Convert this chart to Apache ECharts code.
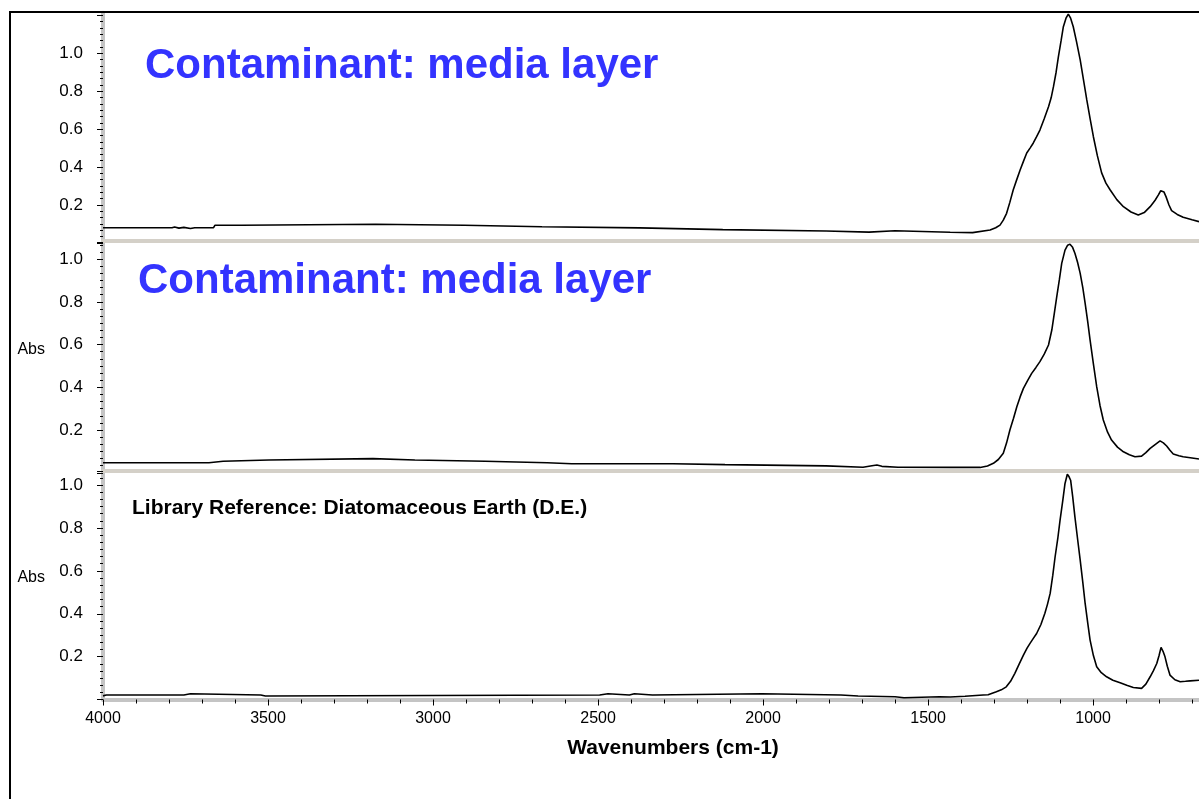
<!DOCTYPE html>
<html>
<head>
<meta charset="utf-8">
<script src="https://cdn.jsdelivr.net/npm/echarts@6/dist/echarts.min.js"></script>
<style>
html,body{margin:0;padding:0;background:#fff;}
#chart{width:1199px;height:799px;}
</style>
</head>
<body>
<div id="chart"></div>
<script>
// ---- data (wavenumbers in cm-1, absorbance) ----
const wnTop = [4000,3791,3783,3770,3755,3735,3722,3665,3661,3580,3576,3174,3170,2905,2900,2670,2665,2374,2370,2122,2118,1809,1805,1679,1675,1600,1596,1433,1365,1360,1312,1295,1282,1272,1262,1252,1242,1231,1221,1211,1201,1191,1181,1171,1161,1148,1135,1127,1120,1112,1105,1097,1090,1082,1075,1068,1060,1050,1039,1029,1019,1009,999,987,974,961,948,928,908,885,863,845,827,812,802,795,790,785,779,770,762,745,727,700,679];
const abTop = [0.080,0.080,0.084,0.078,0.082,0.076,0.080,0.080,0.093,0.093,0.098,0.098,0.093,0.093,0.085,0.085,0.079,0.079,0.070,0.070,0.063,0.063,0.057,0.057,0.064,0.064,0.054,0.056,0.054,0.059,0.068,0.080,0.094,0.120,0.156,0.215,0.279,0.335,0.384,0.430,0.474,0.500,0.527,0.560,0.595,0.655,0.718,0.765,0.824,0.900,0.982,1.065,1.140,1.185,1.207,1.185,1.140,1.060,0.965,0.860,0.754,0.655,0.560,0.460,0.369,0.315,0.279,0.228,0.191,0.163,0.147,0.160,0.191,0.225,0.253,0.275,0.283,0.268,0.244,0.200,0.170,0.150,0.135,0.122,0.112];

const wnMid = [4000,3679,3675,3636,3632,3497,3493,3182,3178,3055,3051,2842,2838,2654,2650,2580,2575,2570,2273,2269,2115,2111,1809,1805,1697,1670,1655,1640,1591,1433,1342,1320,1302,1287,1272,1262,1252,1241,1231,1221,1211,1198,1186,1173,1161,1148,1135,1125,1118,1110,1102,1095,1085,1077,1070,1062,1055,1047,1039,1031,1024,1016,1009,999,989,979,969,956,944,926,908,890,873,853,840,827,812,797,787,777,767,757,740,727,700,679];
const abMid = [0.047,0.047,0.054,0.054,0.060,0.060,0.066,0.066,0.060,0.060,0.054,0.054,0.047,0.047,0.042,0.042,0.046,0.042,0.042,0.038,0.038,0.032,0.032,0.026,0.026,0.033,0.036,0.030,0.026,0.025,0.025,0.032,0.044,0.062,0.091,0.140,0.200,0.255,0.309,0.355,0.395,0.432,0.465,0.493,0.520,0.555,0.598,0.668,0.740,0.824,0.905,0.980,1.042,1.065,1.070,1.055,1.027,0.985,0.933,0.865,0.793,0.705,0.621,0.510,0.403,0.315,0.247,0.190,0.153,0.120,0.098,0.084,0.075,0.078,0.094,0.114,0.132,0.149,0.140,0.125,0.105,0.088,0.080,0.075,0.069,0.064];

const wnBot = [4000,3990,3755,3750,3735,3730,3522,3518,3508,3504,2495,2490,2470,2465,2405,2400,2390,2385,2335,2330,2003,2000,1764,1760,1712,1708,1600,1596,1573,1569,1465,1460,1433,1388,1384,1333,1318,1293,1278,1263,1250,1237,1224,1211,1200,1191,1181,1171,1158,1146,1138,1130,1122,1115,1107,1100,1092,1085,1078,1073,1068,1062,1055,1047,1039,1031,1024,1016,1009,999,989,975,959,940,918,898,878,853,840,827,817,807,800,794,788,782,775,767,752,736,720,706,679];
const abBot = [0.017,0.021,0.021,0.027,0.027,0.021,0.021,0.016,0.016,0.021,0.021,0.027,0.027,0.021,0.021,0.027,0.027,0.021,0.021,0.027,0.027,0.021,0.021,0.016,0.016,0.013,0.013,0.008,0.008,0.013,0.013,0.017,0.012,0.015,0.019,0.021,0.022,0.036,0.045,0.059,0.085,0.122,0.165,0.207,0.240,0.262,0.285,0.308,0.350,0.402,0.445,0.495,0.580,0.666,0.750,0.837,0.925,1.008,1.051,1.040,1.023,0.950,0.852,0.750,0.650,0.545,0.448,0.355,0.277,0.205,0.153,0.125,0.106,0.090,0.078,0.066,0.056,0.052,0.072,0.106,0.135,0.168,0.205,0.243,0.225,0.199,0.155,0.114,0.092,0.083,0.085,0.087,0.090];

// x-axis tick labels / tick positions
const xMajorTicks = [4000,3500,3000,2500,2000,1500,1000];
const xMinorTicks = [3900,3800,3700,3600,3400,3300,3200,3100,2900,2800,2700,2600,2400,2300,2200,2100,1900,1800,1700,1600,1400,1300,1200,1100,900,800,700];

const titles = ['Contaminant: media layer', 'Contaminant: media layer', 'Library Reference: Diatomaceous Earth (D.E.)'];
const yMax = [1.214, 1.08, 1.066];
const yName = ['', 'Abs', 'Abs'];
const xName = 'Wavenumbers (cm-1)';
const X_MIN = 679, X_MAX = 4000;

// ---- chart ----
const FONT = "'Liberation Sans', Arial, sans-serif";
const chart = echarts.init(document.getElementById('chart'), null, {renderer: 'canvas'});

const grids = [
  {left: 103, right: 0, top: 12.7, height: 230.2},
  {left: 103, right: 0, top: 242, height: 230.75},
  {left: 103, right: 0, top: 471, height: 228.5}
];

function yLabel(v) { return (v > 0.01 && v < 1.01) ? v.toFixed(1) : ''; }

const yAxes = [0, 1, 2].map(i => ({
  type: 'value', gridIndex: i, min: 0, max: yMax[i], interval: 0.2,
  name: yName[i], nameLocation: 'middle', nameRotate: 0, nameGap: 58,
  nameTextStyle: {fontSize: 16, color: '#000', fontFamily: FONT, verticalAlign: 'bottom'},
  axisLine: {show: true, lineStyle: {color: '#c4c4c4', width: 4}},
  axisTick: {show: true, length: 6, lineStyle: {color: '#000', width: 1}},
  minorTick: {show: true, splitNumber: 6, length: 3, lineStyle: {color: '#000', width: 1}},
  axisLabel: {formatter: yLabel, fontSize: 17, color: '#000', fontFamily: FONT, margin: 20},
  splitLine: {show: false}
}));

const xAxes = [0, 1, 2].map(i => {
  const base = {type: 'value', gridIndex: i, inverse: true, min: X_MIN, max: X_MAX, splitLine: {show: false}};
  if (i < 2) {
    return Object.assign(base, {
      offset: -2,
      axisLine: {show: true, lineStyle: {color: '#d4d0c8', width: 4}},
      axisTick: {show: false}, axisLabel: {show: false}
    });
  }
  return Object.assign(base, {
    name: xName, nameLocation: 'middle', nameGap: 38,
    nameTextStyle: {fontSize: 21, fontWeight: 'bold', color: '#000', fontFamily: FONT, padding: [0, 0, 0, 44]},
    axisLine: {show: true, lineStyle: {color: '#c4c4c4', width: 4}},
    axisTick: {show: true, length: 6, customValues: xMajorTicks, lineStyle: {color: '#000', width: 1}},
    axisLabel: {fontSize: 16, color: '#000', fontFamily: FONT, margin: 11, customValues: xMajorTicks,
      formatter: v => String(v)}
  });
});
// minor ticks of the bottom wavenumber axis
xAxes.push({
  type: 'value', gridIndex: 2, inverse: true, min: X_MIN, max: X_MAX, position: 'bottom', z: 5,
  axisLine: {show: false}, splitLine: {show: false}, axisLabel: {show: false},
  axisTick: {show: true, length: 4, customValues: xMinorTicks, lineStyle: {color: '#000', width: 1}}
});

const sets = [[wnTop, abTop], [wnMid, abMid], [wnBot, abBot]];
const series = sets.map((s, i) => ({
  type: 'line', xAxisIndex: i, yAxisIndex: i, symbol: 'none', silent: true,
  lineStyle: {color: '#000', width: 1.6},
  data: s[0].map((w, k) => [w, s[1][k]])
}));

chart.setOption({
  animation: false,
  backgroundColor: '#fff',
  textStyle: {fontFamily: FONT},
  title: [
    {text: titles[0], left: 145, top: 45, padding: 0,
     textStyle: {color: '#3333ff', fontSize: 42, fontWeight: 'bold', fontFamily: FONT}},
    {text: titles[1], left: 138, top: 260, padding: 0,
     textStyle: {color: '#3333ff', fontSize: 42, fontWeight: 'bold', fontFamily: FONT}},
    {text: titles[2], left: 132, top: 498, padding: 0,
     textStyle: {color: '#000', fontSize: 21, fontWeight: 'bold', fontFamily: FONT}}
  ],
  graphic: [{
    type: 'rect', silent: true, z: 100,
    shape: {x: 10, y: 12, width: 1400, height: 1000},
    style: {fill: 'none', stroke: '#000', lineWidth: 2}
  }],
  grid: grids,
  xAxis: xAxes,
  yAxis: yAxes,
  series: series
});
</script>
</body>
</html>
